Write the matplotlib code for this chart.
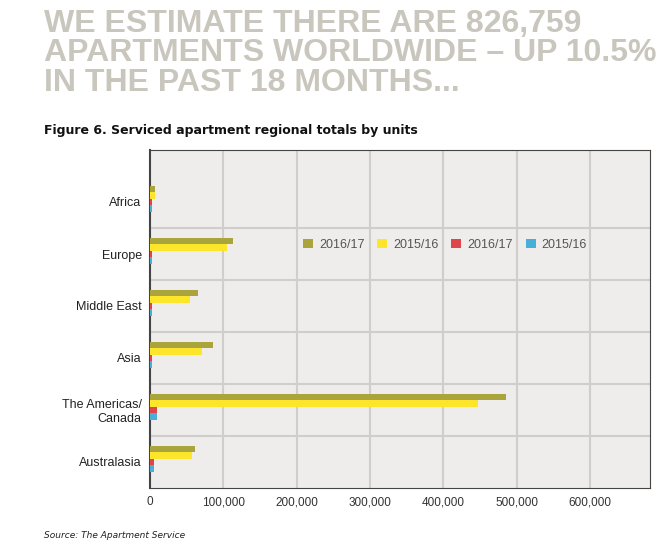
import matplotlib
matplotlib.use("Agg")
import matplotlib.pyplot as plt
import numpy as np

categories = ["Africa", "Europe", "Middle East", "Asia", "The Americas/\nCanada", "Australasia"]
series_names = ["2016/17", "2015/16", "2016/17", "2015/16"]
olive = [7000, 113000, 65000, 85500, 486000, 61000]
yellow = [6500, 105000, 54000, 71000, 447000, 57000]
red = [3000, 3000, 3000, 3000, 9000, 5000]
blue = [3000, 3000, 3000, 3000, 9000, 5000]
xticks = [0, 100000, 200000, 300000, 400000, 500000, 600000]
colors = ["#a9a43b", "#fde52c", "#de464b", "#4aafd8"]

narrow = ["Liberation Sans", "DejaVu Sans"]
fig = plt.figure(figsize=(6.71, 5.58), dpi=100)
fig.patch.set_facecolor("white")
ax = fig.add_axes([150/671, 1-488/558, 500/671, 338/558])
ax.set_facecolor("#eeedeb")
n = len(categories)
yc = np.arange(n)[::-1]
h = 0.125
for k, vals in enumerate([olive, yellow, red, blue]):
    ax.barh(yc + 0.25 - k*h, vals, height=h, color=colors[k], label=series_names[k], zorder=3)
ax.set_xlim(0, 682000)
ax.set_ylim(-0.5, 6.0)
ax.set_xticks(xticks)
ax.set_xticklabels([f"{v:,}" for v in xticks], family=narrow, fontsize=8.5, color="#333333")
ax.set_yticks(yc)
ax.set_yticklabels(categories, family=narrow, fontsize=9, color="#222222")
ax.tick_params(length=0, pad=6)
for x in xticks[1:]:
    ax.axvline(x, color="#cfcecb", lw=1.5, zorder=1)
for b in np.arange(0.5, n - 0.5, 1.0):
    ax.axhline(b, color="#cfcecb", lw=1.5, zorder=1)
for s in ax.spines.values():
    s.set_color("#444444"); s.set_linewidth(0.8)
ax.spines["left"].set_linewidth(1.5)
ax.legend(loc="center", bbox_to_anchor=(0.59, 0.72), ncol=4, frameon=False,
          handlelength=0.8, handleheight=0.8, columnspacing=1.0, handletextpad=0.5,
          prop={"family": narrow, "size": 9}, labelcolor="#555555")

fig.text(44/671, 1-9/558, "WE ESTIMATE THERE ARE 826,759\nAPARTMENTS WORLDWIDE – UP 10.5%\nIN THE PAST 18 MONTHS...",
         ha="left", va="top", fontsize=23, fontweight="bold", color="#c9c6bd", linespacing=0.97,
         family="Liberation Sans")
fig.text(44/671, 1-131/558, "Figure 6. Serviced apartment regional totals by units",
         ha="left", va="center", fontsize=9, fontweight="bold", color="#111111")
fig.text(44/671, 1-536/558, "Source: The Apartment Service", ha="left", va="center",
         fontsize=6.5, style="italic", color="#222222")
fig.savefig("out.png", dpi=100)
